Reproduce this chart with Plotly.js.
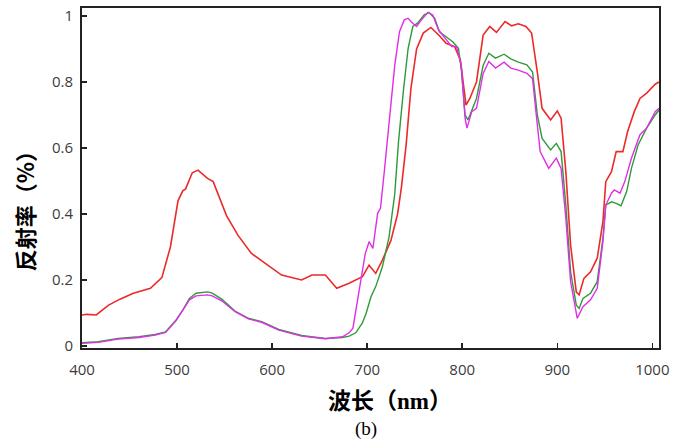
<!DOCTYPE html>
<html>
<head>
<meta charset="utf-8">
<script src="https://cdn.plot.ly/plotly-3.0.1.min.js"></script>
<style>
html,body{margin:0;padding:0;background:#fff;}
#chart{width:679px;height:441px;}
</style>
</head>
<body>
<div id="chart"></div>
<script>
// Wavelength (nm) and reflectance for each curve
const redX = [400,405,415,428,440,454,472,484,493,501,506,509,516,522,532,538,552,564,578,596,610,631,642,656,668,681,695,702,706,709,716,725,732,736,741,746,752,759,767,776,783,792,798,804,808,815,822,829,836,845,852,859,867,873,879,884,893,900,904,909,914,920,923,928,935,942,948,951,957,962,969,974,981,987,994,1003,1007];
const redY = [0.094,0.096,0.094,0.124,0.142,0.16,0.175,0.207,0.30,0.44,0.47,0.476,0.525,0.533,0.508,0.498,0.395,0.336,0.281,0.245,0.215,0.20,0.215,0.215,0.175,0.19,0.21,0.245,0.23,0.22,0.26,0.32,0.40,0.48,0.61,0.78,0.90,0.948,0.965,0.94,0.917,0.907,0.867,0.73,0.75,0.80,0.942,0.968,0.95,0.983,0.97,0.976,0.968,0.948,0.83,0.72,0.685,0.712,0.69,0.528,0.306,0.163,0.155,0.205,0.225,0.266,0.377,0.498,0.528,0.589,0.589,0.65,0.71,0.75,0.766,0.793,0.80];

const greenX = [400,417,438,460,477,488,499,506,513,520,532,537,547,561,575,589,607,631,656,674,681,688,695,699,704,709,716,723,729,733,738,743,748,753,760,765,771,776,783,790,796,799,803,806,815,822,828,835,844,851,859,868,874,879,884,893,899,904,909,914,920,923,927,935,942,948,951,957,962,967,973,978,985,994,1003,1007];
const greenY = [0.01,0.013,0.023,0.028,0.035,0.043,0.079,0.109,0.144,0.16,0.164,0.16,0.142,0.106,0.084,0.074,0.05,0.032,0.023,0.026,0.03,0.04,0.07,0.10,0.149,0.18,0.24,0.33,0.46,0.62,0.77,0.9,0.968,0.978,1.003,1.01,0.993,0.952,0.937,0.922,0.902,0.84,0.70,0.685,0.75,0.85,0.887,0.872,0.884,0.87,0.86,0.852,0.83,0.70,0.629,0.594,0.614,0.589,0.427,0.225,0.124,0.114,0.144,0.16,0.195,0.326,0.427,0.437,0.432,0.425,0.468,0.538,0.609,0.66,0.70,0.715];

const magentaX = [400,417,438,460,477,488,499,506,513,520,532,537,547,561,575,589,607,631,656,674,681,685,692,698,702,706,711,714,718,723,729,734,739,743,746,752,757,764,769,775,782,789,794,799,803,805,810,815,822,828,835,844,851,859,868,874,879,882,891,899,904,909,914,920,921,927,935,942,948,951,957,960,966,971,978,987,994,1003,1007];
const magentaY = [0.008,0.011,0.021,0.026,0.033,0.041,0.077,0.107,0.14,0.152,0.155,0.152,0.137,0.104,0.082,0.072,0.048,0.03,0.022,0.028,0.04,0.054,0.17,0.28,0.316,0.296,0.402,0.417,0.528,0.68,0.85,0.952,0.988,0.993,0.983,0.968,0.988,1.011,1.003,0.958,0.932,0.907,0.907,0.85,0.69,0.66,0.71,0.72,0.826,0.862,0.842,0.86,0.842,0.836,0.826,0.81,0.67,0.589,0.538,0.569,0.538,0.387,0.195,0.094,0.084,0.119,0.14,0.175,0.316,0.427,0.463,0.473,0.463,0.498,0.569,0.64,0.66,0.71,0.72];

const xTicks = [400,500,600,700,800,900,1000];
const yTicks = [0,0.2,0.4,0.6,0.8,1];

const traces = [
  {x: redX, y: redY, mode: 'lines', line: {color: '#ec2a2a', width: 1.6}},
  {x: greenX, y: greenY, mode: 'lines', line: {color: '#2f9a3a', width: 1.4}},
  {x: magentaX, y: magentaY, mode: 'lines', line: {color: '#e02ee6', width: 1.4}}
];

const axisCommon = {
  showline: true, linecolor: '#222', linewidth: 2, mirror: true,
  ticks: 'inside', ticklen: 5, tickwidth: 1.5, tickcolor: '#222',
  showgrid: false, zeroline: false,
  tickfont: {family: 'Open Sans, sans-serif', size: 15, color: '#3c3c3c'}
};

const layout = {
  width: 679, height: 441,
  margin: {l: 82, r: 20, t: 8, b: 93},
  paper_bgcolor: '#fff', plot_bgcolor: '#fff',
  showlegend: false,
  xaxis: Object.assign({}, axisCommon, {range: [400, 1007], tickvals: xTicks, ticktext: xTicks.map(String), ticklabelstandoff: 7}),
  yaxis: Object.assign({}, axisCommon, {range: [-0.006, 1.024], tickvals: yTicks, ticktext: yTicks.map(String), ticklabelstandoff: 4}),
  annotations: [
    {text: '<b>反射率（%）</b>', xref: 'paper', yref: 'paper', x: -0.1, y: 0.5, xanchor: 'center', yanchor: 'middle',
     textangle: -90, showarrow: false, font: {family: 'Noto Sans CJK SC', size: 22, color: '#000'},
     yshift: -28},
    {text: '<b>波长（<span style="font-family:Liberation Serif">nm</span>）</b>', xref: 'paper', yref: 'paper', x: 0.5, y: 0, xanchor: 'center', yanchor: 'middle',
     showarrow: false, font: {family: 'Noto Sans CJK SC', size: 23, color: '#000'}, xshift: 19, yshift: -51},
    {text: '(b)', xref: 'paper', yref: 'paper', x: 0.5, y: 0, xanchor: 'center', yanchor: 'middle',
     showarrow: false, font: {family: 'Liberation Serif, serif', size: 19, color: '#000'}, xshift: -5, yshift: -81}
  ]
};

Plotly.newPlot('chart', traces, layout, {displayModeBar: false, staticPlot: true});
</script>
</body>
</html>
